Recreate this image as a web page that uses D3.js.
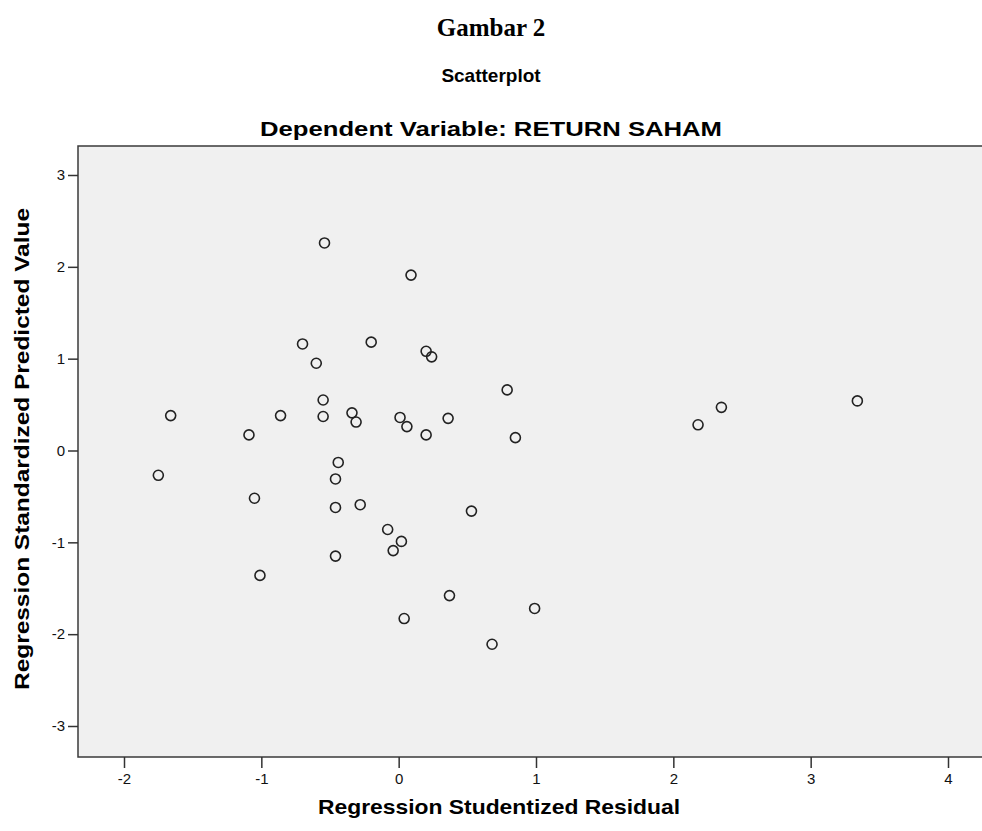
<!DOCTYPE html>
<html>
<head>
<meta charset="utf-8">
<script src="https://cdn.jsdelivr.net/npm/d3@7"></script>
<style>
	body { margin: 0; background: #fff; }
	.axis path { display: none; }
	.axis line { stroke: #333; stroke-width: 1.5; }
	.axis text { font-family: "Liberation Sans", Arial, sans-serif; font-size: 15px; fill: #111; }
</style>
</head>
<body>
<script>
(function(){

//studentized residuals (x) and standardized predicted values (y)
var residual = [-0.54, 0.09, -0.70, -0.20, 0.20, 0.24, -0.60, 0.79, -0.55, -1.66,
	-0.86, -0.55, -0.34, -0.31, 0.01, 0.06, 0.36, -1.09, 0.20, 0.85,
	-0.44, -1.75, -0.46, -1.05, -0.46, -0.28, 0.53, -0.08, 0.02, -0.04,
	-0.46, -1.01, 0.37, 0.99, 0.04, 0.68, 2.18, 2.35, 3.34];
var predicted = [2.26, 1.91, 1.16, 1.18, 1.08, 1.02, 0.95, 0.66, 0.55, 0.38,
	0.38, 0.37, 0.41, 0.31, 0.36, 0.26, 0.35, 0.17, 0.17, 0.14,
	-0.13, -0.27, -0.31, -0.52, -0.62, -0.59, -0.66, -0.86, -0.99, -1.09,
	-1.15, -1.36, -1.58, -1.72, -1.83, -2.11, 0.28, 0.47, 0.54];

var xTicks = [-2, -1, 0, 1, 2, 3, 4];
var yTicks = [-3, -2, -1, 0, 1, 2, 3];

var width = 982,
	height = 831;

var svg = d3.select("body")
	.append("svg")
	.attr("width", width)
	.attr("height", height);

//scales pinned on the tick positions of the picture
var x = d3.scaleLinear()
	.domain([-2, 4])
	.range([124, 948]);

var y = d3.scaleLinear()
	.domain([-3, 3])
	.range([726, 175]);

var plotLeft = 78,
	plotTop = 146,
	plotBottom = 757,
	plotRight = 995;

//grey plot frame, runs off the right edge like the original
svg.append("rect")
	.attr("x", plotLeft)
	.attr("y", plotTop)
	.attr("width", plotRight - plotLeft)
	.attr("height", plotBottom - plotTop)
	.style("fill", "#f0f0f0")
	.style("stroke", "#3a3a3a")
	.style("stroke-width", 1.5);

//plain hyphen like SPSS, not the unicode minus
var fmt = function(d){ return String(d); };

//axes
var yAxis = d3.axisLeft(y)
	.tickValues(yTicks)
	.tickFormat(fmt)
	.tickSize(10)
	.tickPadding(3);

svg.append("g")
	.attr("class", "axis")
	.attr("transform", "translate(" + plotLeft + ",0)")
	.call(yAxis);

var xAxis = d3.axisBottom(x)
	.tickValues(xTicks)
	.tickFormat(fmt)
	.tickSize(11)
	.tickPadding(5);

svg.append("g")
	.attr("class", "axis")
	.attr("transform", "translate(0," + plotBottom + ")")
	.call(xAxis);

//points
svg.selectAll(".dot")
	.data(residual)
	.enter()
	.append("circle")
	.attr("class", "dot")
	.attr("cx", function(d){ return x(d); })
	.attr("cy", function(d, i){ return y(predicted[i]); })
	.attr("r", 5)
	.style("fill", "none")
	.style("stroke", "#222")
	.style("stroke-width", 1.6);

//titles
svg.append("text")
	.attr("x", 491)
	.attr("y", 36)
	.attr("text-anchor", "middle")
	.style("font-family", "'Liberation Serif', 'Times New Roman', serif")
	.style("font-weight", "bold")
	.style("font-size", "25px")
	.text("Gambar 2");

svg.append("text")
	.attr("x", 491)
	.attr("y", 82)
	.attr("text-anchor", "middle")
	.style("font-family", "'Liberation Sans', Arial, sans-serif")
	.style("font-weight", "bold")
	.style("font-size", "19px")
	.text("Scatterplot");

svg.append("text")
	.attr("x", 491)
	.attr("y", 136)
	.attr("text-anchor", "middle")
	.attr("textLength", 462)
	.attr("lengthAdjust", "spacingAndGlyphs")
	.style("font-family", "'Liberation Sans', Arial, sans-serif")
	.style("font-weight", "bold")
	.style("font-size", "21px")
	.text("Dependent Variable: RETURN SAHAM");

svg.append("text")
	.attr("x", 499)
	.attr("y", 814)
	.attr("text-anchor", "middle")
	.attr("textLength", 362)
	.attr("lengthAdjust", "spacingAndGlyphs")
	.style("font-family", "'Liberation Sans', Arial, sans-serif")
	.style("font-weight", "bold")
	.style("font-size", "21px")
	.text("Regression Studentized Residual");

svg.append("text")
	.attr("transform", "translate(29,449) rotate(-90)")
	.attr("text-anchor", "middle")
	.attr("textLength", 482)
	.attr("lengthAdjust", "spacingAndGlyphs")
	.style("font-family", "'Liberation Sans', Arial, sans-serif")
	.style("font-weight", "bold")
	.style("font-size", "21px")
	.text("Regression Standardized Predicted Value");

})();
</script>
</body>
</html>
